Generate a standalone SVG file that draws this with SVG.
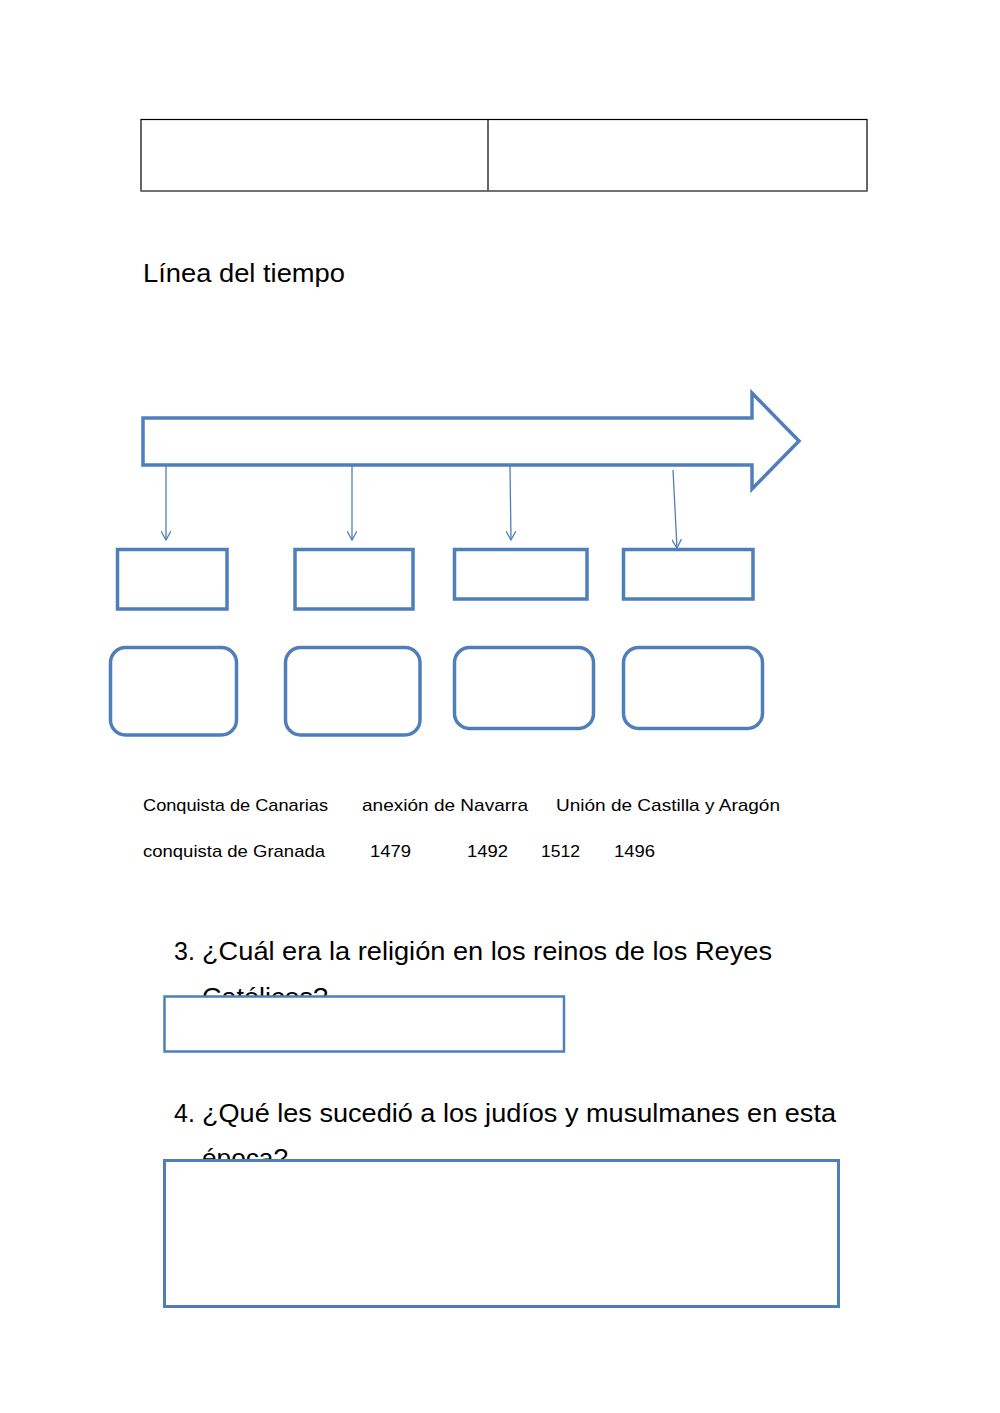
<svg xmlns="http://www.w3.org/2000/svg" width="1000" height="1413" viewBox="0 0 1000 1413">
<defs>
<style>
.t{font-family:"Liberation Sans","DejaVu Sans",sans-serif;fill:#000}
.s{font-size:17px}
.q{font-size:25px}
.b{fill:#fff;stroke:#4f7fba;stroke-width:3.5}
.c{fill:none;stroke:#4f7fba;stroke-width:1.3}
</style>
<marker id="ah" viewBox="0 0 10 10" refX="9" refY="5" markerWidth="10" markerHeight="10" markerUnits="userSpaceOnUse" orient="auto">
<path d="M0,0 L9,5 L0,10" fill="none" stroke="#4f7fba" stroke-width="1.3"/>
</marker>
</defs>
<rect width="1000" height="1413" fill="#fff"/>
<g id="table">
<rect x="141" y="119.5" width="726" height="71.5" fill="none" stroke="#000" stroke-width="1.2"/>
<line x1="488" y1="119.5" x2="488" y2="191" stroke="#000" stroke-width="1.2"/>
<line x1="141" y1="191" x2="867" y2="191" stroke="#777" stroke-width="1.5"/>
</g>
<text class="t" x="143" y="282" font-size="25" textLength="202" lengthAdjust="spacingAndGlyphs">Línea del tiempo</text>
<g id="timeline">
<path class="b" d="M143,418 L752,418 L752,393 L799,441 L752,489 L752,465 L143,465 Z"/>
</g>
<g id="connectors">
<line class="c" x1="166" y1="466" x2="166" y2="540" marker-end="url(#ah)"/>
<line class="c" x1="352" y1="466" x2="352" y2="540" marker-end="url(#ah)"/>
<line class="c" x1="510" y1="466" x2="511" y2="540" marker-end="url(#ah)"/>
<line class="c" x1="673" y1="470" x2="677" y2="548" marker-end="url(#ah)"/>
</g>
<g id="box1"><rect class="b" x="117.5" y="549.5" width="109.5" height="59.5"/></g>
<g id="box2"><rect class="b" x="295" y="549.5" width="118" height="59.5"/></g>
<g id="box3"><rect class="b" x="454.5" y="549.5" width="132.5" height="49.5"/></g>
<g id="box4"><rect class="b" x="623.5" y="549.5" width="129.5" height="49.5"/></g>
<g id="rbox1"><rect class="b" x="110.5" y="647.5" width="126" height="87.5" rx="15"/></g>
<g id="rbox2"><rect class="b" x="285.5" y="647.5" width="134.5" height="87.5" rx="15"/></g>
<g id="rbox3"><rect class="b" x="454.5" y="647.5" width="139" height="81" rx="15"/></g>
<g id="rbox4"><rect class="b" x="623.5" y="647.5" width="139" height="81" rx="15"/></g>
<g id="labels">
<text class="t s" x="143" y="811" textLength="185" lengthAdjust="spacingAndGlyphs">Conquista de Canarias</text>
<text class="t s" x="362" y="811" textLength="166" lengthAdjust="spacingAndGlyphs">anexión de Navarra</text>
<text class="t s" x="556" y="811" textLength="224" lengthAdjust="spacingAndGlyphs">Unión de Castilla y Aragón</text>
<text class="t s" x="143" y="857" textLength="182" lengthAdjust="spacingAndGlyphs">conquista de Granada</text>
<text class="t s" x="370" y="857" textLength="41" lengthAdjust="spacingAndGlyphs">1479</text>
<text class="t s" x="467" y="857" textLength="41" lengthAdjust="spacingAndGlyphs">1492</text>
<text class="t s" x="541" y="857" textLength="39" lengthAdjust="spacingAndGlyphs">1512</text>
<text class="t s" x="614" y="857" textLength="41" lengthAdjust="spacingAndGlyphs">1496</text>
</g>
<g id="q3">
<text class="t q" x="174" y="960">3.</text>
<text class="t q" x="202" y="960" textLength="570" lengthAdjust="spacingAndGlyphs">¿Cuál era la religión en los reinos de los Reyes</text>
<text class="t q" x="202" y="1006" textLength="126" lengthAdjust="spacingAndGlyphs">Católicos?</text>
<rect class="b" x="164.5" y="996.5" width="399.5" height="55" style="stroke-width:2.5"/>
</g>
<g id="q4">
<text class="t q" x="174" y="1122">4.</text>
<text class="t q" x="202" y="1122" textLength="634" lengthAdjust="spacingAndGlyphs">¿Qué les sucedió a los judíos y musulmanes en esta</text>
<text class="t q" x="202" y="1167" textLength="86" lengthAdjust="spacingAndGlyphs">época?</text>
<rect class="b" x="164.5" y="1160.5" width="674" height="146" style="stroke-width:3"/>
</g>
</svg>
